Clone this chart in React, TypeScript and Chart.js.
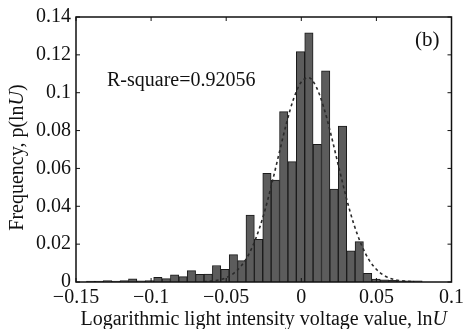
import React, { useEffect, useRef } from "react";
import { Chart, registerables } from "chart.js";

Chart.register(...registerables);

// Histogram bin centres (ln U) and observed frequencies
const binCenters = [
  -0.1402, -0.13461, -0.12903, -0.12344, -0.11785, -0.11227, -0.10668, -0.10109,
  -0.0955, -0.08992, -0.08433, -0.07874, -0.07316, -0.06757, -0.06198, -0.0564,
  -0.05081, -0.04522, -0.03963, -0.03405, -0.02846, -0.02287, -0.01729, -0.0117,
  -0.00611, -0.00053, 0.00506, 0.01065, 0.01624, 0.02182, 0.02741, 0.033,
  0.03858, 0.04417, 0.04976, 0.05535, 0.06093, 0.06652, 0.07211, 0.07769,
];
const frequencies = [
  0.0005, 0.0005, 0.0008, 0.0005, 0.0008, 0.0017, 0.0006, 0.0008,
  0.0025, 0.0018, 0.0038, 0.0028, 0.006, 0.0041, 0.0042, 0.0087,
  0.0067, 0.0145, 0.0113, 0.0354, 0.0226, 0.0574, 0.0539, 0.09,
  0.0636, 0.1217, 0.1317, 0.0727, 0.1115, 0.0491, 0.0824, 0.0165,
  0.0213, 0.0046, 0.0016, 0.0012, 0.0009, 0.0006, 0.0006, 0.0006,
];

// Fitted curve (dashed)
const fitX = [
  -0.065, -0.06, -0.055, -0.05, -0.045, -0.04, -0.035, -0.03, -0.025, -0.02,
  -0.015, -0.01, -0.005, 0, 0.005, 0.01, 0.015, 0.02, 0.025, 0.03,
  0.035, 0.04, 0.045, 0.05, 0.055, 0.06, 0.065, 0.07, 0.075,
];
const fitY = [
  0.0002, 0.0005, 0.0011, 0.0023, 0.0046, 0.0085, 0.0146, 0.0236, 0.0357, 0.0507,
  0.0672, 0.0835, 0.0971, 0.1057, 0.1079, 0.103, 0.0921, 0.0771, 0.0605, 0.0444,
  0.0305, 0.0197, 0.0118, 0.0067, 0.0035, 0.0017, 0.0008, 0.0004, 0.0001,
];

const xTickValues = [-0.15, -0.1, -0.05, 0, 0.05, 0.1];
const xTickLabels = ["\u22120.15", "\u22120.1", "\u22120.05", "0", "0.05", "0.1"];
const yTickValues = [0, 0.02, 0.04, 0.06, 0.08, 0.1, 0.12, 0.14];
const yTickLabels = ["0", "0.02", "0.04", "0.06", "0.08", "0.1", "0.12", "0.14"];

const xTitleParts = [
  { text: "Logarithmic light intensity voltage value, ln", italic: false },
  { text: "U", italic: true },
];
const yTitleParts = [
  { text: "Frequency, p(ln", italic: false },
  { text: "U", italic: true },
  { text: ")", italic: false },
];
const rSquareText = "R-square=0.92056";
const panelText = "(b)";

const FAMILY = "'Liberation Serif', 'Times New Roman', serif";
const INK = "#111111";

function drawParts(ctx: CanvasRenderingContext2D, parts: { text: string; italic: boolean }[], size: number, cx: number, baseline: number) {
  const widths = parts.map((p) => {
    ctx.font = `${p.italic ? "italic " : ""}${size}px ${FAMILY}`;
    return ctx.measureText(p.text).width;
  });
  const total = widths.reduce((a, b) => a + b, 0);
  let x = cx - total / 2;
  ctx.textAlign = "left";
  ctx.textBaseline = "alphabetic";
  parts.forEach((p, i) => {
    ctx.font = `${p.italic ? "italic " : ""}${size}px ${FAMILY}`;
    ctx.fillText(p.text, x, baseline);
    x += widths[i];
  });
}

const framePlugin = {
  id: "matlabFrame",
  afterDatasetsDraw(chart: any) {
    const { ctx, chartArea, scales } = chart;
    const { left, right, top, bottom } = chartArea;
    const xs = scales.x;
    const ys = scales.y;
    ctx.save();
    ctx.strokeStyle = INK;
    ctx.lineWidth = 1.5;
    ctx.strokeRect(left, top, right - left, bottom - top);
    ctx.lineWidth = 1;
    const tl = 4;
    ctx.beginPath();
    xTickValues.forEach((v) => {
      const px = xs.getPixelForValue(v);
      ctx.moveTo(px, bottom);
      ctx.lineTo(px, bottom - tl);
      ctx.moveTo(px, top);
      ctx.lineTo(px, top + tl);
    });
    yTickValues.forEach((v) => {
      const py = ys.getPixelForValue(v);
      ctx.moveTo(left, py);
      ctx.lineTo(left + tl, py);
      ctx.moveTo(right, py);
      ctx.lineTo(right - tl, py);
    });
    ctx.stroke();

    ctx.fillStyle = INK;
    // x title
    drawParts(ctx, xTitleParts, 20, (left + right) / 2, 325);
    // y title (rotated)
    ctx.save();
    ctx.translate(23, (top + bottom) / 2 + 8);
    ctx.rotate(-Math.PI / 2);
    drawParts(ctx, yTitleParts, 20, 0, 0);
    ctx.restore();
    // annotations
    ctx.font = `20px ${FAMILY}`;
    ctx.textAlign = "left";
    ctx.textBaseline = "alphabetic";
    ctx.fillText(rSquareText, 107, 86);
    ctx.font = `21px ${FAMILY}`;
    ctx.fillText(panelText, 415, 46);
    ctx.restore();
  },
};

export default function App() {
  const canvasRef = useRef<HTMLCanvasElement | null>(null);

  useEffect(() => {
    document.body.style.margin = "0";
    const canvas = canvasRef.current;
    if (!canvas) return;
    const chart = new Chart(canvas, {
      type: "bar",
      data: {
        datasets: [
          {
            type: "line",
            label: "fit",
            data: fitX.map((x, i) => ({ x, y: fitY[i] })),
            borderColor: "#2a2a2a",
            borderWidth: 1.6,
            borderDash: [3, 3],
            pointRadius: 0,
            fill: false,
            cubicInterpolationMode: "monotone",
            order: 0,
          } as any,
          {
            type: "bar",
            label: "frequency",
            data: binCenters.map((x, i) => ({ x, y: frequencies[i] })),
            backgroundColor: "#5c5c5c",
            borderColor: "#1a1a1a",
            borderWidth: 1,
            barPercentage: 1,
            categoryPercentage: 1,
            order: 1,
          } as any,
        ],
      },
      options: {
        animation: false,
        responsive: false,
        devicePixelRatio: 1,
        layout: { padding: { left: 0, right: 13, top: 16, bottom: 0 } },
        plugins: { legend: { display: false }, tooltip: { enabled: false } },
        scales: {
          x: {
            type: "linear",
            min: -0.15,
            max: 0.1,
            offset: false,
            grid: { display: false, drawTicks: false, offset: false },
            border: { display: false },
            afterBuildTicks: (scale: any) => {
              scale.ticks = xTickValues.map((value) => ({ value }));
            },
            afterFit: (scale: any) => {
              scale.height = 47;
            },
            ticks: {
              autoSkip: false,
              maxRotation: 0,
              padding: 4,
              color: INK,
              font: { family: FAMILY, size: 20 },
              callback: (_v: any, i: number) => xTickLabels[i],
            },
          },
          y: {
            type: "linear",
            min: 0,
            max: 0.14,
            grid: { display: false, drawTicks: false },
            border: { display: false },
            afterBuildTicks: (scale: any) => {
              scale.ticks = yTickValues.map((value) => ({ value }));
            },
            afterFit: (scale: any) => {
              scale.width = 76;
            },
            ticks: {
              padding: 5,
              color: INK,
              font: { family: FAMILY, size: 20 },
              callback: (_v: any, i: number) => yTickLabels[i],
            },
          },
        },
      },
      plugins: [framePlugin],
    });
    return () => chart.destroy();
  }, []);

  return (
    <div style={{ position: "relative", width: 468, height: 329, background: "#ffffff" }}>
      <canvas ref={canvasRef} width={468} height={329} />
    </div>
  );
}
